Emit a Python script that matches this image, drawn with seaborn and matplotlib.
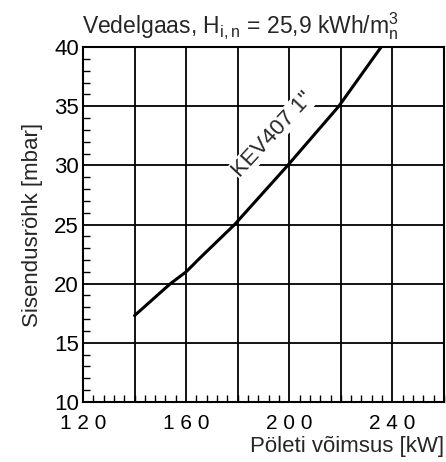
import numpy as np
import pandas as pd
import matplotlib
matplotlib.use("Agg")
import matplotlib.pyplot as plt
import seaborn as sns
from matplotlib.ticker import MultipleLocator

# Curve KEV407 1"
power_kw = [140, 153.9, 160, 165.5, 178.8, 199.4, 219.2, 235.6]
pressure_mbar = [17.3, 20.0, 21.0, 22.2, 25.0, 30.0, 35.0, 40.0]
x_ticks = [120, 160, 200, 240]
x_tick_labels = ["1 2 0", "1 6 0", "2 0 0", "2 4 0"]
y_ticks = [10, 15, 20, 25, 30, 35, 40]

sns.set_style("white")
plt.rcParams["font.family"] = ["Liberation Sans", "DejaVu Sans"]
plt.rcParams["mathtext.fontset"] = "custom"
plt.rcParams["mathtext.rm"] = "Liberation Sans"

df = pd.DataFrame({"power": power_kw, "pressure": pressure_mbar})

fig = plt.figure(figsize=(4.46, 4.62), dpi=100)
ax = fig.add_axes([0.186, 0.130, 0.8095, 0.768])

sns.lineplot(data=df, x="power", y="pressure", ax=ax, color="black", linewidth=2.2)

ax.set_xlim(120, 260)
ax.set_ylim(10, 40)
ax.set_xticks(x_ticks)
ax.set_xticklabels(x_tick_labels)
ax.set_yticks(y_ticks)
ax.xaxis.set_minor_locator(MultipleLocator(4))
ax.yaxis.set_minor_locator(MultipleLocator(1))

# grid every 20 kW / 5 mbar
for gx in range(140, 260, 20):
    ax.axvline(gx, color="black", linewidth=1.3, zorder=1)
for gy in range(15, 40, 5):
    ax.axhline(gy, color="black", linewidth=1.3, zorder=1)

for s in ax.spines.values():
    s.set_color("black")
    s.set_linewidth(1.5)

ax.tick_params(axis="both", which="both", bottom=True, left=True, top=False, right=False)
ax.tick_params(axis="both", which="major", direction="in", length=0,
               labelsize=16, pad=3, colors="black")
ax.tick_params(axis="both", which="minor", direction="in", length=5,
               width=1, colors="black")
ax.tick_params(axis="x", which="major", pad=9, labelsize=15)

ax.set_xlabel("")
ax.set_ylabel("Sisendusröhk [mbar]", fontsize=16, labelpad=8)
fig.text(0.995, 0.01, "Pöleti võimsus [kW]", ha="right", va="bottom", fontsize=16)
fig.text(0.54, 0.91, r"Vedelgaas, H$_{\mathrm{i,n}}$ = 25,9 kWh/m$^3_\mathrm{n}$",
         ha="center", va="bottom", fontsize=16.5)

ax.text(193.5, 32.6, 'KEV407 1"', rotation=47, ha="center", va="center",
        fontsize=16, zorder=3,
        bbox=dict(facecolor="white", edgecolor="none", pad=0.5))

fig.savefig("out.png", dpi=100)
